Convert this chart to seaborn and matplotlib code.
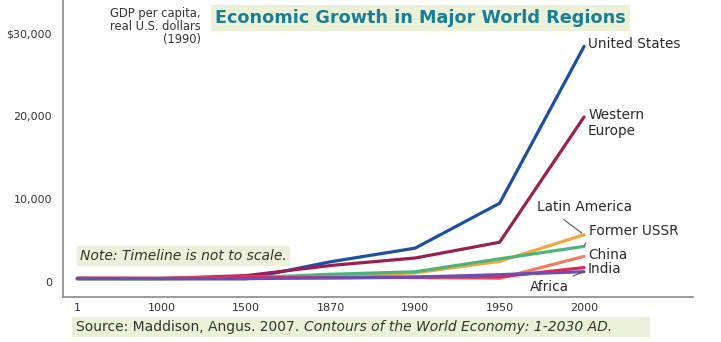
import matplotlib
matplotlib.use("Agg")
import matplotlib.pyplot as plt
import seaborn as sns
import pandas as pd

# GDP per capita, 1990 US dollars (Maddison)
periods = ["1", "1000", "1500", "1870", "1900", "1950", "2000"]
united_states = [400, 400, 400, 2450, 4090, 9500, 28400]
western_europe = [450, 420, 780, 2000, 2900, 4800, 19900]
latin_america = [400, 400, 420, 680, 1110, 2500, 5700]
former_ussr = [400, 400, 500, 940, 1240, 2800, 4300]
china = [450, 450, 600, 530, 545, 450, 3100]
india = [450, 450, 550, 530, 600, 620, 1750]
africa = [430, 425, 415, 500, 600, 890, 1250]

regions = ["United States", "Western Europe", "Latin America", "Former USSR",
           "China", "India", "Africa"]
series = [united_states, western_europe, latin_america, former_ussr,
          china, india, africa]
colors = ["#1f4f9e", "#9c1f52", "#f4a73c", "#4db37c", "#f27c5e", "#e3265c", "#6a4fb0"]

rows = []
for name, vals in zip(regions, series):
    for i, v in enumerate(vals):
        rows.append({"pos": i, "gdp": v, "region": name})
df = pd.DataFrame(rows)

sns.set_theme(style="white")
plt.rcParams["font.family"] = ["DejaVu Sans"]

W, H = 721, 342
fig = plt.figure(figsize=(W / 100, H / 100), dpi=100)
ax = fig.add_axes([63 / W, 1 - 297 / H, 630 / W, 297 / H])

sns.lineplot(data=df, x="pos", y="gdp", hue="region", hue_order=regions,
             palette=dict(zip(regions, colors)), linewidth=2.3, ax=ax,
             legend=False, estimator=None, sort=False)

ax.set_xlim(-0.17, 7.29)
ax.set_ylim(-1800, 34000)
ax.set_xticks(range(len(periods)))
ax.set_xticklabels(periods)
ax.set_yticks([0, 10000, 20000, 30000])
ax.set_yticklabels(["0", "10,000", "20,000", "$30,000"])
ax.set_xlabel("")
ax.set_ylabel("")

for side in ["top", "right"]:
    ax.spines[side].set_visible(False)
for side in ["left", "bottom"]:
    ax.spines[side].set_color("#8a8a8a")
    ax.spines[side].set_linewidth(1.2)
ax.tick_params(axis="y", direction="in", length=11, width=1.2, color="#8a8a8a",
               pad=8, labelsize=8, labelcolor="#333333")
ax.tick_params(axis="x", direction="in", length=8, width=1.2, color="#8a8a8a",
               pad=4, labelsize=8, labelcolor="#333333")

lab = dict(fontsize=9.8, color="#2a2a2a", textcoords="offset pixels",
           annotation_clip=False)
last = len(periods) - 1
ax.annotate("United States", (last, united_states[-1]), xytext=(4, 2),
            ha="left", va="center", **lab)
ax.annotate("Western\nEurope", (last, western_europe[-1]), xytext=(4, 9),
            ha="left", va="top", linespacing=1.15, **lab)
ax.annotate("Latin America", (last, latin_america[-1]), xytext=(-47, 28),
            ha="left", va="center",
            arrowprops=dict(arrowstyle="-", color="#555555", lw=0.8,
                            shrinkA=3, shrinkB=2,
                            relpos=(0.2, 0.0)), **lab)
ax.annotate("Former USSR", (last, former_ussr[-1]), xytext=(5, 15),
            ha="left", va="center",
            arrowprops=dict(arrowstyle="-", color="#555555", lw=0.8,
                            shrinkA=1, shrinkB=1, relpos=(0.0, 0.2)), **lab)
ax.annotate("China", (last, china[-1]), xytext=(4, 1),
            ha="left", va="center", **lab)
ax.annotate("India", (last, india[-1]), xytext=(4, -1),
            ha="left", va="center", **lab)
ax.annotate("Africa", (last, africa[-1]), xytext=(-54, -15),
            ha="left", va="center",
            arrowprops=dict(arrowstyle="-", color="#555555", lw=0.8,
                            shrinkA=1, shrinkB=1, relpos=(0.85, 1.0)), **lab)

box = dict(boxstyle="square,pad=0.25", facecolor="#eaf1d6", edgecolor="none")

fig.text(215 / W, 1 - 18 / H, "Economic Growth in Major World Regions",
         fontsize=12.7, fontweight="bold", color="#1b7d96", ha="left",
         va="center", bbox=box)

fig.text(201 / W, 1 - 26 / H, "GDP per capita,\nreal U.S. dollars\n(1990)",
         fontsize=8.3, color="#333333", ha="right", va="center",
         multialignment="right", linespacing=1.0)

fig.text(80 / W, 1 - 256 / H, "Note: Timeline is not to scale.",
         fontsize=10, style="italic", color="#333333", ha="left",
         va="center", bbox=box)

src = fig.text(76 / W, 1 - 327 / H, "Source: Maddison, Angus. 2007. ",
               fontsize=10, color="#333333", ha="left", va="center")
fig.canvas.draw()
bb = src.get_window_extent()
fig.text(bb.x1 / W, 1 - 327 / H, "Contours of the World Economy: 1-2030 AD.",
         fontsize=10, style="italic", color="#333333", ha="left", va="center")
bg = plt.Rectangle((72 / W, 1 - 337 / H), 578 / W, 20 / H,
                   transform=fig.transFigure, facecolor="#eaf1d6",
                   edgecolor="none", zorder=-1)
fig.patches.append(bg)

fig.savefig("out.png", dpi=100)
